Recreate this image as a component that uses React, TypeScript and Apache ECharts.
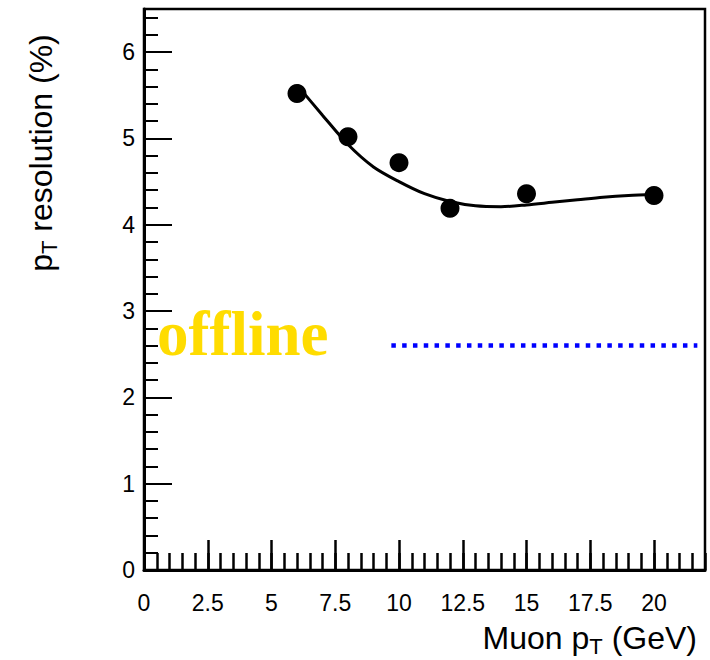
import React, { useEffect, useRef } from 'react';
import * as echarts from 'echarts';

// Measured points
const pointX = [6, 8, 10, 12, 15, 20];
const pointY = [5.52, 5.02, 4.72, 4.19, 4.36, 4.34];

// Fit curve
const fitX = [6, 7, 8, 9, 10, 11, 12, 13, 14, 15, 16, 17, 18, 19, 20];
const fitY = [5.62, 5.27, 4.93, 4.67, 4.5, 4.36, 4.27, 4.22, 4.21, 4.23, 4.26, 4.29, 4.32, 4.34, 4.35];

// Offline reference line
const offlineX = [9.7, 21.7];
const offlineY = [2.6, 2.6];

// Axis ranges / ticks
const xRange = [0, 22];
const xMajor = 2.5;
const xMinor = 0.5;
const yRange = [0, 6.5];
const yMajor = 1;
const yMinor = 0.2;

const SANS = '"Liberation Sans", Arial, Helvetica, sans-serif';
const SERIF = '"Liberation Serif", "Times New Roman", serif';

export default function App() {
  const ref = useRef<HTMLDivElement>(null);

  useEffect(() => {
    if (!ref.current) return;
    const chart = echarts.init(ref.current, null, { renderer: 'svg' });

    const axisBase = (min: number, max: number) => ({
      type: 'value' as const,
      min,
      max,
      splitLine: { show: false },
    });

    const titleRich = {
      a: { fontSize: 32, fontFamily: SANS, lineHeight: 38, verticalAlign: 'middle', fill: '#000' },
      s: { fontSize: 22, fontFamily: SANS, lineHeight: 19, verticalAlign: 'bottom', fill: '#000' },
    };

    const option: any = {
      animation: false,
      backgroundColor: '#ffffff',
      grid: {
        left: 144,
        top: 9,
        width: 561,
        height: 561,
        show: true,
        borderColor: '#000',
        borderWidth: 2.5,
        backgroundColor: 'transparent',
      },
      xAxis: [
        {
          ...axisBase(xRange[0], xRange[1]),
          position: 'bottom',
          interval: xMajor,
          axisLine: { show: true, lineStyle: { color: '#000', width: 3 } },
          axisTick: { show: true, inside: true, length: 30, lineStyle: { color: '#000', width: 2.5 } },
          axisLabel: {
            show: true,
            margin: 21,
            color: '#000',
            fontSize: 23,
            fontFamily: SANS,
            showMaxLabel: false,
          },
        },
        {
          ...axisBase(xRange[0], xRange[1]),
          position: 'bottom',
          interval: xMinor,
          axisLine: { show: false },
          axisTick: { show: true, inside: true, length: 17, lineStyle: { color: '#000', width: 2.5 } },
          axisLabel: { show: false },
        },
      ],
      yAxis: [
        {
          ...axisBase(yRange[0], yRange[1]),
          position: 'left',
          interval: yMajor,
          axisLine: { show: true, lineStyle: { color: '#000', width: 3 } },
          axisTick: { show: true, inside: true, length: 28, lineStyle: { color: '#000', width: 2 } },
          axisLabel: {
            show: true,
            margin: 9,
            color: '#000',
            fontSize: 23,
            fontFamily: SANS,
            showMaxLabel: false,
          },
        },
        {
          ...axisBase(yRange[0], yRange[1]),
          position: 'left',
          interval: yMinor,
          axisLine: { show: false },
          axisTick: { show: true, inside: true, length: 14, lineStyle: { color: '#000', width: 2 } },
          axisLabel: { show: false },
        },
      ],
      series: [
        {
          type: 'line',
          xAxisIndex: 0,
          yAxisIndex: 0,
          data: fitX.map((x, i) => [x, fitY[i]]),
          smooth: 0.3,
          showSymbol: false,
          symbol: 'none',
          lineStyle: { color: '#000', width: 3 },
          z: 3,
        },
        {
          type: 'scatter',
          xAxisIndex: 0,
          yAxisIndex: 0,
          data: pointX.map((x, i) => [x, pointY[i]]),
          symbol: 'circle',
          symbolSize: 19,
          itemStyle: { color: '#000', opacity: 1 },
          z: 4,
        },
        {
          type: 'line',
          xAxisIndex: 0,
          yAxisIndex: 0,
          data: offlineX.map((x, i) => [x, offlineY[i]]),
          showSymbol: false,
          symbol: 'none',
          lineStyle: { color: '#0000ff', width: 4.5, type: [4.5, 6.3], cap: 'butt' },
          z: 3,
        },
      ],
      graphic: [
        {
          type: 'text',
          x: 157,
          y: 334,
          z: 10,
          style: {
            text: 'offline',
            fontFamily: SERIF,
            fontWeight: 'bold',
            fontSize: 63,
            fill: '#ffdc00',
            align: 'left',
            verticalAlign: 'middle',
          },
        },
        {
          type: 'text',
          x: 697,
          y: 638,
          z: 10,
          style: {
            text: '{a|Muon p}{s|T}{a| (GeV)}',
            align: 'right',
            verticalAlign: 'middle',
            fill: '#000',
            rich: titleRich,
          },
        },
        {
          type: 'text',
          x: 41,
          y: 153,
          rotation: Math.PI / 2,
          z: 10,
          style: {
            text: '{a|p}{s|T}{a| resolution (%)}',
            align: 'center',
            verticalAlign: 'middle',
            fill: '#000',
            rich: titleRich,
          },
        },
      ],
    };

    chart.setOption(option);
    return () => {
      chart.dispose();
    };
  }, []);

  return (
    <div
      ref={ref}
      style={{ position: 'absolute', left: 0, top: 0, width: 710, height: 660, background: '#fff' }}
    />
  );
}
